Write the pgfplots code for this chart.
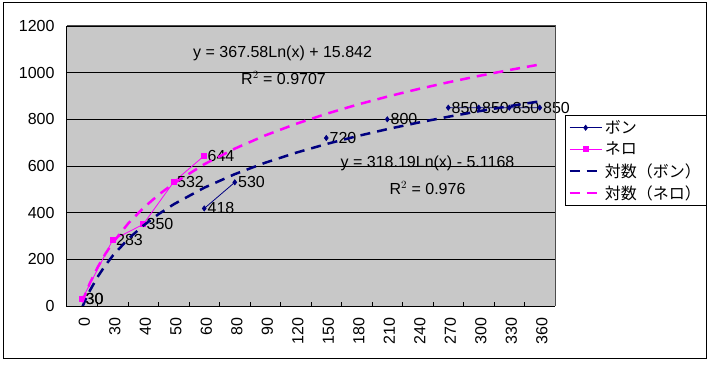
\documentclass[border=0pt]{standalone}
\usepackage{fontspec}
\setmainfont{Liberation Sans}
\newfontfamily\jp{Noto Sans CJK JP}
\usepackage{pgfplots}
\pgfplotsset{compat=1.18}
\definecolor{navyc}{RGB}{0,0,128}
\definecolor{magc}{RGB}{255,0,255}
\definecolor{plotbg}{RGB}{200,200,200}
\begin{document}
\begin{tikzpicture}[font=\fontsize{16}{19}\selectfont]
\path[use as bounding box] (0,0) rectangle (711pt,364pt);
\draw[black, line width=1pt] (3pt,6pt) rectangle (706pt,361pt);
\begin{axis}[
  at={(67pt,58pt)}, anchor=south west,
  scale only axis, width=488pt, height=280pt,
  xmin=-0.5, xmax=15.5, ymin=0, ymax=1200,
  xtick={0,...,15},
  xticklabels={0,30,40,50,60,80,90,120,150,180,210,240,270,300,330,360},
  minor xtick={0.5,1.5,...,14.5},
  ytick={0,200,...,1200},
  major tick length=0pt, minor tick length=4pt,
  tick align=inside, xtick pos=lower, ytick pos=left,
  ymajorgrids, major grid style={black, line width=0.8pt},
  minor tick style={black, line width=1pt},
  axis line style={draw=none},
  axis background/.style={fill=plotbg},
  clip mode=individual,
  unbounded coords=jump,
  /pgf/number format/assume math mode=true,
  /pgf/number format/1000 sep={},
  tick label style={font=\fontsize{16}{19}\selectfont},
  xticklabel style={rotate=90, anchor=east, xshift=-8pt, yshift=-2pt},
  yticklabel style={xshift=-9pt},
  legend style={at={(1.0205,0.682)}, anchor=north west, draw=black, fill=white,
    font=\jp\fontsize{16}{19}\selectfont, row sep=3pt, inner sep=3pt, line width=0.8pt},
  legend cell align=left,
  legend image code/.code={\draw[mark repeat=2,mark phase=2,#1] plot coordinates {(0pt,0pt)(16pt,0pt)(32pt,0pt)};},
  every node near coord/.append style={anchor=west, black, font=\fontsize{16}{19}\selectfont, inner sep=2pt, xshift=1pt},
]
\addplot[navyc, line width=0.8pt, mark=diamond*, mark size=2.5pt, mark options={fill=navyc, draw=navyc}, nodes near coords]
 coordinates {(0,30) (1,nan) (2,nan) (3,nan) (4,418) (5,530) (6,nan) (7,nan) (8,720) (9,nan) (10,800) (11,nan) (12,850) (13,850) (14,850) (15,850)};
\addlegendentry{ボン}
\addplot[magc, line width=0.8pt, mark=square*, mark size=2.5pt, mark options={fill=magc, draw=magc}, nodes near coords]
 coordinates {(0,30) (1,283) (2,350) (3,532) (4,644)};
\addlegendentry{ネロ}
\addplot[navyc, line width=2.5pt, dash pattern=on 10pt off 7pt]
 coordinates {(0,-5.12) (0.1,25.21) (0.25,65.88) (0.5,123.90) (0.75,172.95) (1,215.44) (1.5,286.44) (2,344.45) (2.5,393.50) (3,435.99) (4,506.99) (5,565.00) (6,614.05) (7,656.54) (8,694.02) (9,727.54) (10,757.87) (11,785.56) (12,811.02) (13,834.60) (14,856.56) (15,877.09)};
\addlegendentry{対数（ボン）}
\addplot[magc, line width=2.5pt, dash pattern=on 10pt off 7pt]
 coordinates {(0,15.84) (0.1,50.88) (0.25,97.86) (0.5,164.88) (0.75,221.55) (1,270.63) (1.5,352.65) (2,419.67) (2.5,476.33) (3,525.42) (4,607.44) (5,674.46) (6,731.12) (7,780.20) (8,823.50) (9,862.23) (10,897.26) (11,929.25) (12,958.67) (13,985.91) (14,1011.27) (15,1035.00)};
\addlegendentry{対数（ネロ）}
\node at (axis cs:6.57,1084) {y = 367.58Ln(x) + 15.842};
\node at (axis cs:6.60,977) {R$^2$ = 0.9707};
\node at (axis cs:11.32,613) {y = 318.19Ln(x) - 5.1168};
\node at (axis cs:11.32,506) {R$^2$ = 0.976};
\draw[black, line width=1pt] (rel axis cs:0,1) -- (rel axis cs:0,0) -- (rel axis cs:1,0);
\draw[black!70, line width=1pt] (rel axis cs:0,1) -- (rel axis cs:1,1) -- (rel axis cs:1,0);
\end{axis}
\end{tikzpicture}
\end{document}
